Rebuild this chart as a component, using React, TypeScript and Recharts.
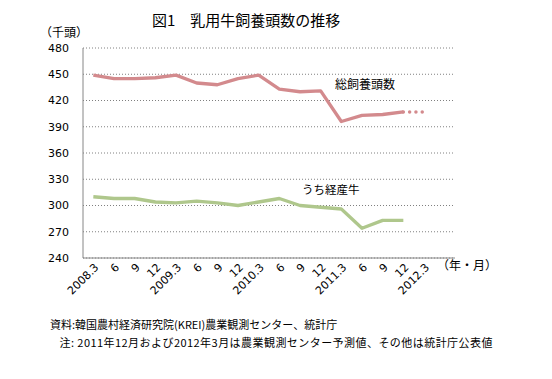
import React from "react";
import { LineChart, Line, XAxis, YAxis, CartesianGrid } from "recharts";

const categories = ["2008.3", "6", "9", "12", "2009.3", "6", "9", "12", "2010.3", "6", "9", "12", "2011.3", "6", "9", "12", "2012.3", ""];
const totalHerd = [449, 445, 445, 446, 449, 440, 438, 445, 449, 433, 430, 431, 396, 403, 404, 407];
const totalForecast: (number | null)[] = [null, null, null, null, null, null, null, null, null, null, null, null, null, null, null, 407, 407];
const dairyCows = [310, 308, 308, 304, 303, 305, 303, 300, 304, 308, 300, 298, 296, 274, 283, 283];
const yTicks = [240, 270, 300, 330, 360, 390, 420, 450, 480];

const data = categories.map((c, i) => ({
  name: c,
  total: i < totalHerd.length ? totalHerd[i] : null,
  forecast: i < totalForecast.length ? totalForecast[i] : null,
  cows: i < dairyCows.length ? dairyCows[i] : null,
}));

const PINK = "#D38A8D";
const GREEN = "#AFC78C";
const JP = "'Noto Sans CJK JP', sans-serif";

const XTick = (props: any) => {
  const { x, y, payload } = props;
  const ax = x + 6;
  const ay = y + 10;
  return (
    <text x={ax} y={ay} transform={`rotate(-45 ${ax} ${ay})`} textAnchor="end" fontSize={11} fontFamily="DejaVu Sans" fill="#000">
      {payload.value}
    </text>
  );
};

const abs = (left: number, top: number, size: number, extra: any = {}) => ({
  position: "absolute" as const,
  left,
  top,
  fontSize: size,
  lineHeight: `${size}px`,
  fontFamily: JP,
  whiteSpace: "nowrap" as const,
  color: "#000",
  ...extra,
});

export default function App() {
  return (
    <div style={{ position: "absolute", left: 0, top: 0, width: 552, height: 379, background: "#fff" }}>
      <LineChart width={552} height={379} data={data} margin={{ top: 48, right: 97, left: 0, bottom: 0 }}>
        <CartesianGrid vertical={false} stroke="#808080" strokeDasharray="1 2" />
        <XAxis
          dataKey="name"
          height={121}
          tickLine={false}
          tickSize={0}
          tickMargin={0}
          interval={0}
          padding={{ left: 10.33, right: 10.33 }}
          axisLine={{ stroke: "#868686" }}
          tick={<XTick />}
        />
        <YAxis
          width={83}
          domain={[240, 480]}
          ticks={yTicks}
          interval={0}
          tickLine={false}
          tickSize={6}
          tickMargin={8}
          axisLine={{ stroke: "#868686" }}
          tick={{ fontSize: 11, fontFamily: "DejaVu Sans", fill: "#000" }}
        />
        <Line dataKey="total" stroke={PINK} strokeWidth={3.3} dot={false} isAnimationActive={false} connectNulls={false} strokeLinejoin="round" />
        <Line dataKey="forecast" stroke={PINK} strokeWidth={3.5} strokeDasharray="0 6.3" strokeLinecap="round" dot={false} isAnimationActive={false} />
        <Line dataKey="cows" stroke={GREEN} strokeWidth={3.3} dot={false} isAnimationActive={false} strokeLinejoin="round" />
      </LineChart>
      <div style={abs(152, 12, 15)}>図1　乳用牛飼養頭数の推移</div>
      <div style={abs(40, 26, 12)}>（千頭）</div>
      <div style={abs(335, 78, 12)}>総飼養頭数</div>
      <div style={abs(302, 184, 11.5)}>うち経産牛</div>
      <div style={abs(437, 259, 12)}>（年・月）</div>
      <div style={abs(50, 319, 11)}>資料:韓国農村経済研究院(KREI)農業観測センター、統計庁</div>
      <div style={abs(48, 337, 11, { letterSpacing: "0.45px" })}>　注: 2011年12月および2012年3月は農業観測センター予測値、その他は統計庁公表値</div>
    </div>
  );
}
